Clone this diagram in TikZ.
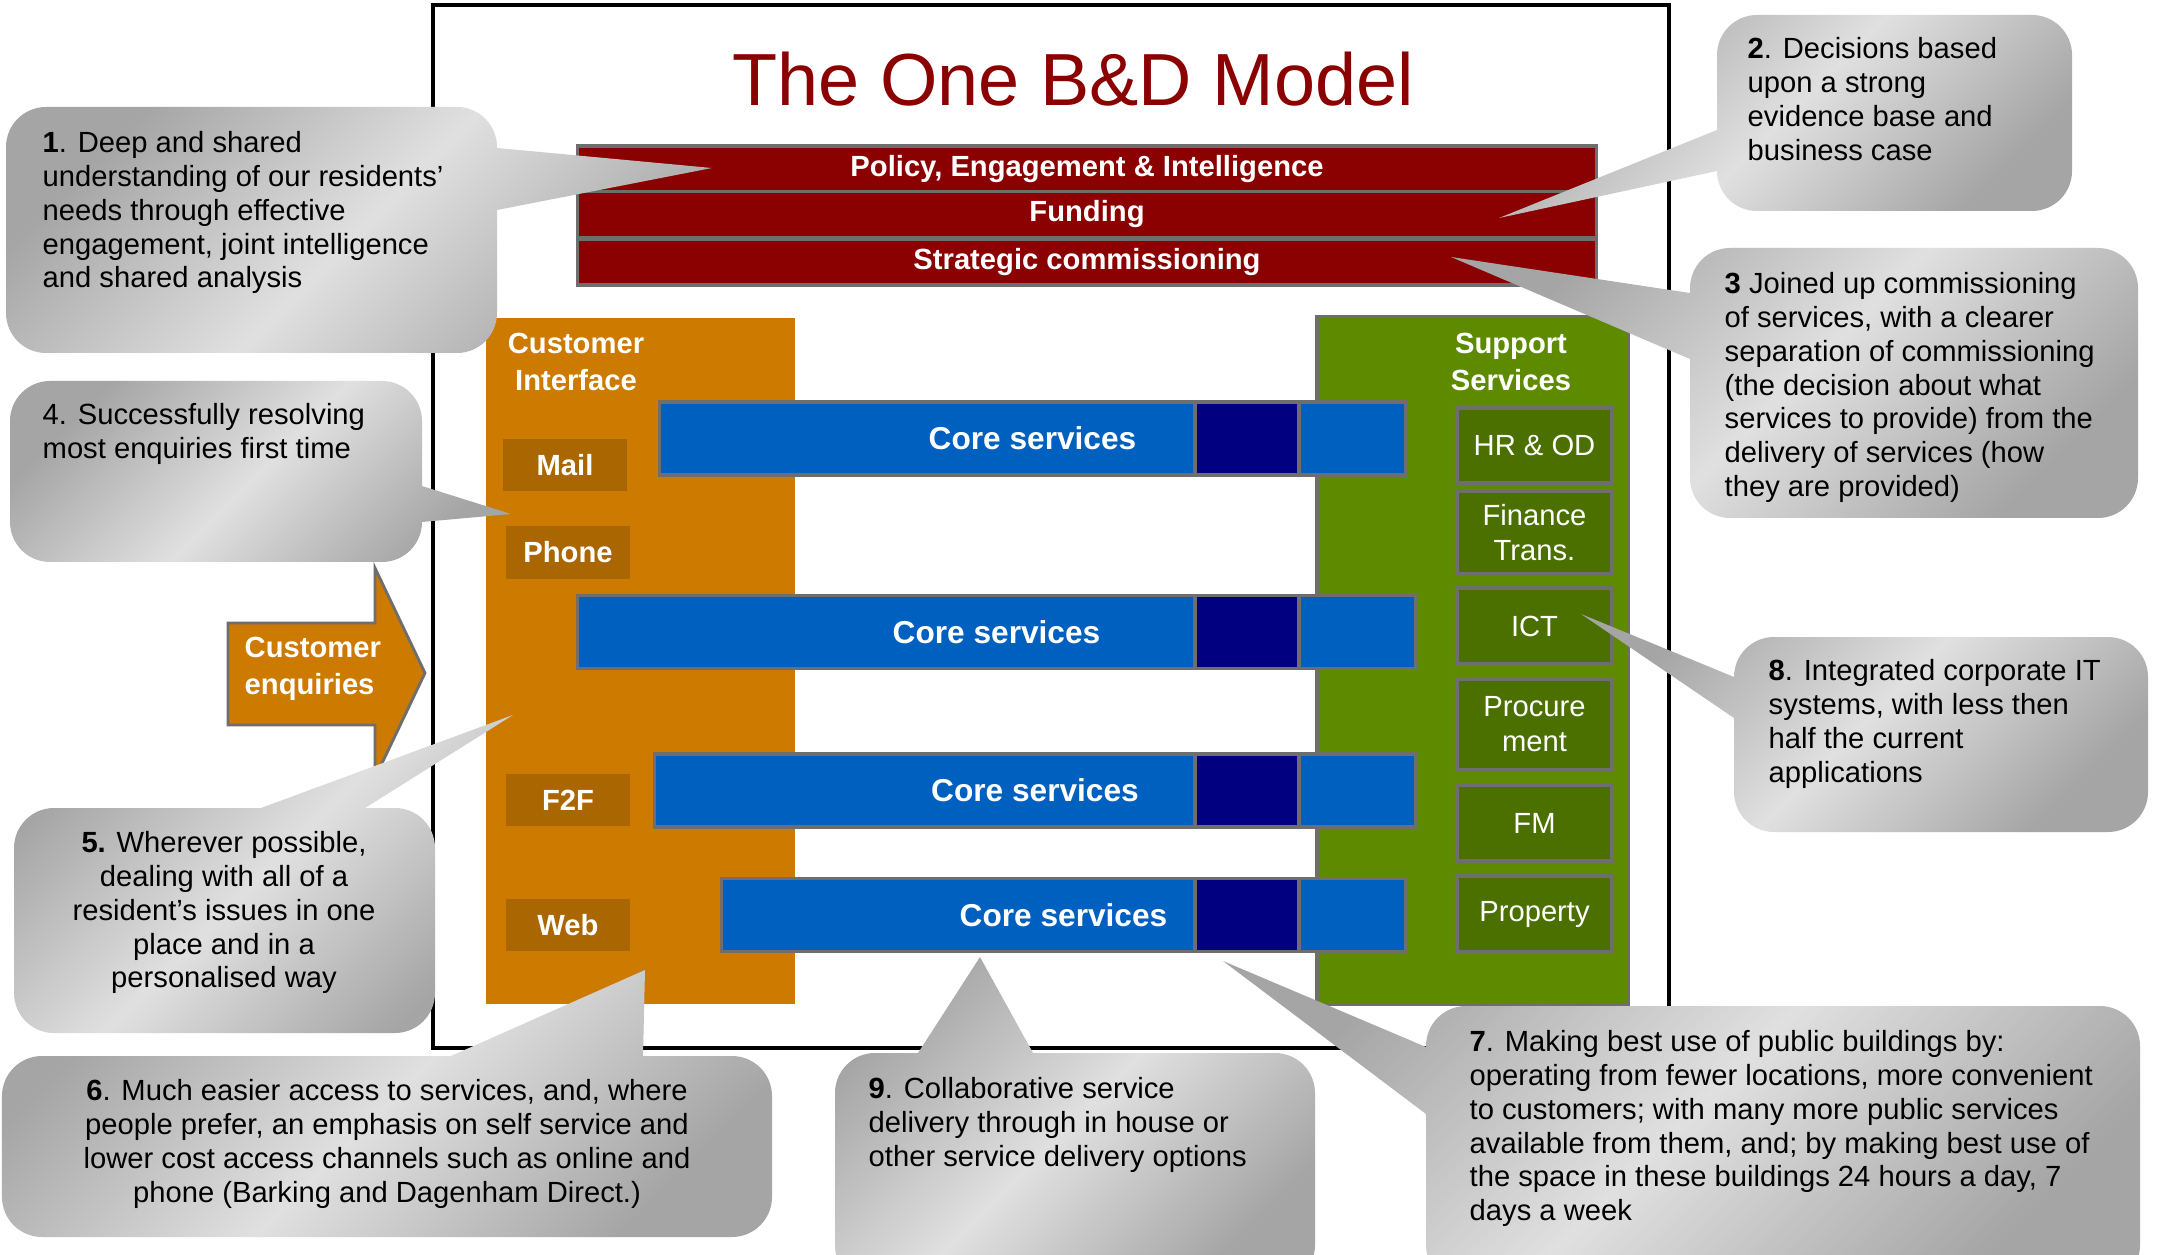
\documentclass[tikz,border=0pt]{standalone}
\usepackage{fontspec}
\setmainfont{Liberation Sans}

\definecolor{bdred}{RGB}{139,0,0}
\definecolor{panelorange}{RGB}{204,122,0}
\definecolor{chanorange}{RGB}{170,102,0}
\definecolor{panelgreen}{RGB}{94,138,0}
\definecolor{subgreen}{RGB}{76,112,0}
\definecolor{coreblue}{RGB}{0,96,192}
\definecolor{hubnavy}{RGB}{0,0,128}
\definecolor{edgegray}{RGB}{110,110,110}
\definecolor{bubblelight}{RGB}{224,224,224}
\definecolor{bubbledark}{RGB}{165,165,165}

\tikzset{
  redbar/.style={draw=edgegray, line width=0.9pt, fill=bdred, minimum width=10.18cm,
    minimum height=0.46cm, inner sep=0pt, text=white, font=\bfseries\fontsize{8.3}{10}\selectfont},
  panel/.style={inner sep=0pt},
  panellabel/.style={inner sep=0pt, align=center, text=white, font=\bfseries\fontsize{8.3}{10.5}\selectfont},
  channel/.style={fill=chanorange, minimum width=1.24cm, minimum height=0.52cm, inner sep=0pt,
    text=white, font=\bfseries\fontsize{8.3}{10}\selectfont},
  supportbox/.style={draw=edgegray, line width=0.9pt, fill=subgreen, minimum width=1.55cm, inner sep=0pt,
    align=center, text=white, font=\fontsize{8.3}{10}\selectfont},
  corebar/.style={draw=edgegray, line width=0.9pt, fill=coreblue, minimum height=0.73cm, inner sep=0pt,
    text=white, font=\bfseries\fontsize{9}{10}\selectfont},
  hub/.style={draw=edgegray, line width=0.9pt, fill=hubnavy, minimum width=1.04cm, minimum height=0.73cm},
  enqarrow/.style={draw=edgegray, line width=0.8pt, fill=panelorange},
  bubble/.style={top color=bubbledark, bottom color=bubbledark, middle color=bubblelight, shading angle=45},
  bubbletext/.style={inner sep=0pt, align=left, font=\fontsize{8.3}{9.6}\selectfont},
}

\begin{document}
\begin{tikzpicture}[x=0.01cm, y=-0.01cm]

    \useasboundingbox (0,0) rectangle (2157,1255);
    \fill[white] (0,0) rectangle (2157,1255);

    %% The One B&D model

    % Outer frame and title
    \draw[line width=1.1pt] (433,5) rectangle (1669,1048);
    \node[inner sep=0pt, text=bdred, font=\fontsize{21}{24}\selectfont] (title) at (1073,79) {The One B\&D Model};

    % Corporate layers
    \node[redbar] (policy) at (1087,169) {Policy, Engagement \& Intelligence};
    \node[redbar] (funding) at (1087,214.5) {Funding};
    \node[redbar] (commissioning) at (1087,262) {Strategic commissioning};

    % Customer interface column
    \node[panel, fill=panelorange, minimum width=3.09cm, minimum height=6.86cm] (interface) at (640.5,661) {};
    \node[panellabel] (interfacelabel) at (576,362) {Customer\\Interface};
    \node[channel] (mail) at (565,465) {Mail};
    \node[channel] (phone) at (568,552.5) {Phone};
    \node[channel] (f2f) at (568,800) {F2F};
    \node[channel] (web) at (568,925) {Web};

    % Support services column
    \node[panel, fill=panelgreen, draw=edgegray, line width=0.9pt, minimum width=3.11cm, minimum height=6.87cm] (support) at (1472.5,660.5) {};
    \node[panellabel] (supportlabel) at (1511,362) {Support\\Services};
    \node[supportbox, minimum height=0.75cm] (hr) at (1534.5,445.5) {HR \& OD};
    \node[supportbox, minimum height=0.83cm] (finance) at (1534.5,532.5) {Finance\\Trans.};
    \node[supportbox, minimum height=0.76cm] (ict) at (1534.5,626) {ICT};
    \node[supportbox, minimum height=0.91cm] (procure) at (1534.5,724.5) {Procure\\ment};
    \node[supportbox, minimum height=0.76cm] (fm) at (1534.5,823) {FM};
    \node[supportbox, minimum height=0.76cm] (property) at (1534.5,914) {Property};

    % Core services bars
    \node[corebar, minimum width=7.45cm] (core1) at (1032.5,438.5) {Core services};
    \node[corebar, minimum width=8.37cm] (core2) at (996.5,632) {Core services};
    \node[corebar, minimum width=7.60cm] (core3) at (1035,790.5) {Core services};
    \node[corebar, minimum width=6.83cm] (core4) at (1063.5,915) {Core services};
    \node[hub] (hub1) at (1247,438.5) {};
    \node[hub] (hub2) at (1247,632) {};
    \node[hub] (hub3) at (1247,790.5) {};
    \node[hub] (hub4) at (1247,915) {};

    % Customer enquiries arrow
    \draw[enqarrow] (228,623) -- (375,623) -- (375,568) -- (425,673) -- (375,778) -- (375,725) -- (228,725) -- cycle;
    \node[panellabel, align=left, anchor=west] (enquiries) at (244,669) {Customer\\enquiries};

    % Callout 1
    \coordinate (tip1) at (712,168);
    \shade[bubble] (250,107) [rounded corners=0.4cm] -- (497,107) [sharp corners] -- (497,148) -- (tip1) -- (497,210) [rounded corners=0.4cm] -- (497,353) -- (6,353) -- (6,107) -- cycle;
    \node[bubbletext, anchor=north west] (note1) at (42,131) {\textbf{1}. Deep and shared\\understanding of our residents’\\needs through effective\\engagement, joint intelligence\\and shared analysis};

    % Callout 2
    \coordinate (tip2) at (1499,218);
    \shade[bubble] (1890,15) [rounded corners=0.4cm] -- (2072,15) -- (2072,211) -- (1717,211) [sharp corners] -- (1717,171) -- (tip2) -- (1717,130) [rounded corners=0.4cm] -- (1717,15) -- cycle;
    \node[bubbletext, anchor=north west] (note2) at (1747,37) {\textbf{2}. Decisions based\\upon a strong\\evidence base and\\business case};

    % Callout 3
    \coordinate (tip3) at (1451,257);
    \shade[bubble] (1900,248) [rounded corners=0.4cm] -- (2138,248) -- (2138,518) -- (1690,518) [sharp corners] -- (1690,359) -- (tip3) -- (1690,293) [rounded corners=0.4cm] -- (1690,248) -- cycle;
    \node[bubbletext, anchor=north west] (note3) at (1724,272) {\textbf{3} Joined up commissioning\\of services, with a clearer\\separation of commissioning\\(the decision about what\\services to provide) from the\\delivery of services (how\\they are provided)};

    % Callout 4
    \coordinate (tip4) at (511,514);
    \shade[bubble] (200,381) [rounded corners=0.4cm] -- (422,381) [sharp corners] -- (422,486) -- (tip4) -- (422,522) [rounded corners=0.4cm] -- (422,562) -- (10,562) -- (10,381) -- cycle;
    \node[bubbletext, anchor=north west] (note4) at (42,403) {4. Successfully resolving\\most enquiries first time};

    % Callout 5
    \coordinate (tip5) at (513,715);
    \shade[bubble] (14,900) [rounded corners=0.4cm] -- (14,808) [sharp corners] -- (261,808) -- (tip5) -- (365,808) [rounded corners=0.4cm] -- (435,808) -- (435,1033) -- (14,1033) -- cycle;
    \node[bubbletext, align=center, anchor=north] (note5) at (224,831) {\textbf{5.} Wherever possible,\\dealing with all of a\\resident’s issues in one\\place and in a\\personalised way};

    % Callout 6
    \coordinate (tip6) at (645,970);
    \shade[bubble] (2,1150) [rounded corners=0.4cm] -- (2,1056) [sharp corners] -- (451,1056) -- (tip6) -- (643,1056) [rounded corners=0.4cm] -- (772,1056) -- (772,1237) -- (2,1237) -- cycle;
    \node[bubbletext, align=center, anchor=north] (note6) at (387,1079) {\textbf{6}. Much easier access to services, and, where\\people prefer, an emphasis on self service and\\lower cost access channels such as online and\\phone (Barking and Dagenham Direct.)};

    % Callout 7
    \coordinate (tip7) at (1223,961);
    \shade[bubble] (1800,1006) [rounded corners=0.4cm] -- (2140,1006) -- (2140,1285) -- (1426,1285) [sharp corners] -- (1426,1114) -- (tip7) -- (1426,1047) [rounded corners=0.4cm] -- (1426,1006) -- cycle;
    \node[bubbletext, anchor=north west] (note7) at (1469,1030) {\textbf{7}. Making best use of public buildings by:\\operating from fewer locations, more convenient\\to customers; with many more public services\\available from them, and; by making best use of\\the space in these buildings 24 hours a day, 7\\days a week};

    % Callout 8
    \coordinate (tip8) at (1581,614);
    \shade[bubble] (1940,637) [rounded corners=0.4cm] -- (2148,637) -- (2148,832) -- (1734,832) [sharp corners] -- (1734,718) -- (tip8) -- (1734,677) [rounded corners=0.4cm] -- (1734,637) -- cycle;
    \node[bubbletext, anchor=north west] (note8) at (1768,659) {\textbf{8}. Integrated corporate IT\\systems, with less then\\half the current\\applications};

    % Callout 9
    \coordinate (tip9) at (980,957);
    \shade[bubble] (835,1150) [rounded corners=0.4cm] -- (835,1053) [sharp corners] -- (918,1053) -- (tip9) -- (1033,1053) [rounded corners=0.4cm] -- (1315,1053) -- (1315,1285) -- (835,1285) -- cycle;
    \node[bubbletext, anchor=north west] (note9) at (868,1077) {\textbf{9}. Collaborative service\\delivery through in house or\\other service delivery options};

\end{tikzpicture}
\end{document}
